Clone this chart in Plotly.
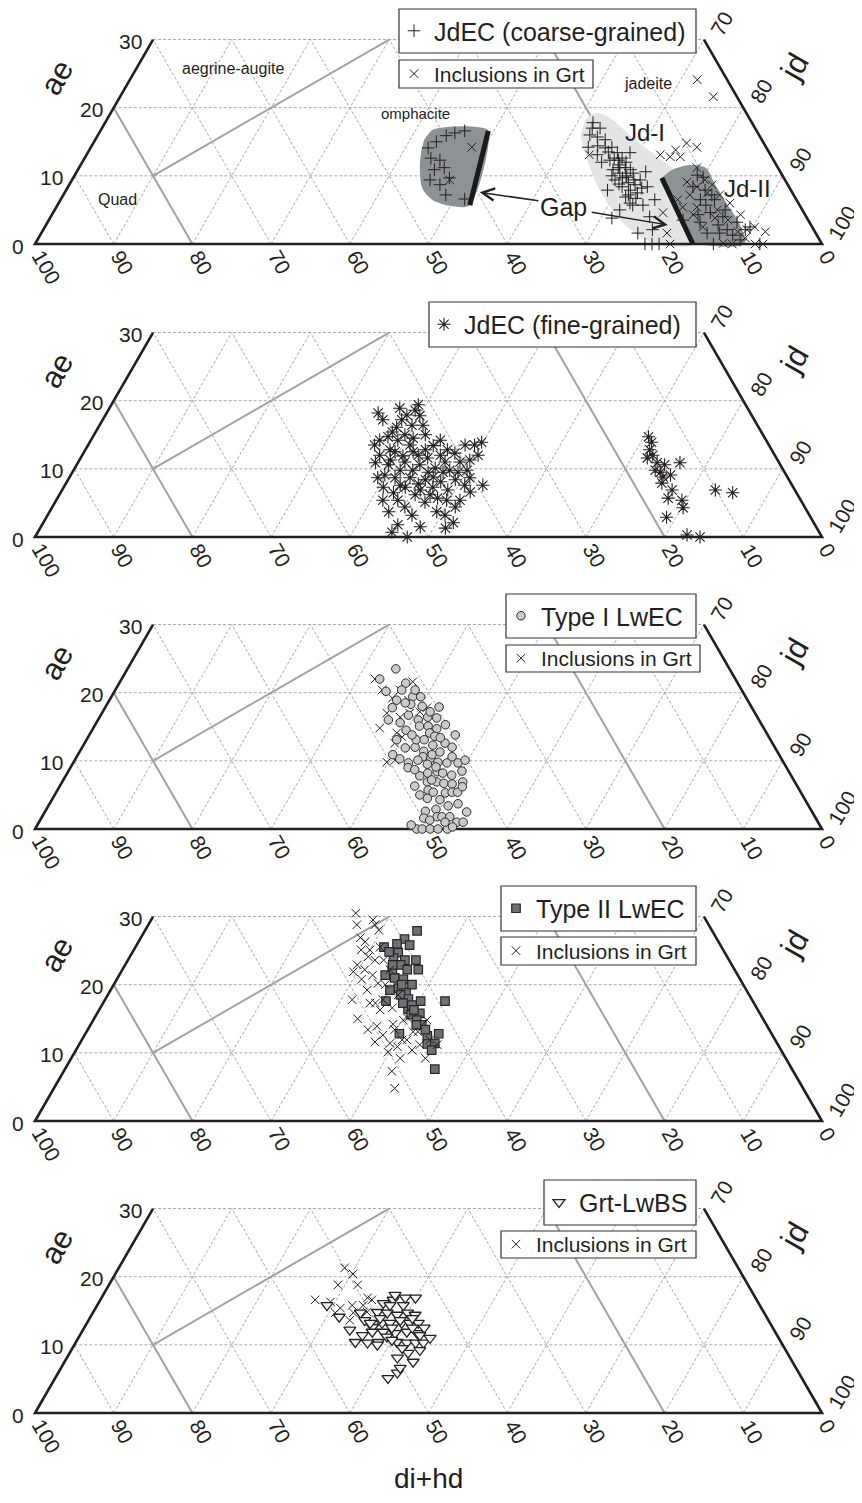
import math
import plotly.graph_objects as go

# page body adds an 8px offset; target positions are measured in screen pixels
OFF = 8
W, H = 862 - OFF, 1503 - OFF
S3 = math.sqrt(3) / 2
FONT = "Arial, Liberation Sans, Helvetica, sans-serif"
TXT = "#231f20"

# ---------------- axes / ticks ----------------
AE_TICKS = [0, 10, 20, 30]
JD_TICKS = [70, 80, 90, 100]
DIHD_TICKS = [100, 90, 80, 70, 60, 50, 40, 30, 20, 10, 0]
GRID_AE = [10, 20, 30]
GRID_JD = [10, 20, 30, 40, 50, 60, 70, 80, 90]
GRID_DI = [10, 20, 30, 40, 50, 60, 70, 80, 90]
AE_MAX = 30

# classification boundaries: di+hd=80, di+hd=20, ae=jd   (ae / jd end points)
BOUND_AE = [[20, 0], [0, 30], [10, 30]]
BOUND_JD = [[0, 20], [80, 50], [10, 30]]

# ---------------- panel 1 : JdEC (coarse-grained) ----------------
P1_COARSE_AE = [14.1, 15.0, 15.9, 16.3, 16.6, 12.6, 12.3, 10.9, 11.2, 9.4, 8.7, 9.7, 7.2, 6.6,
                17.8, 16.0, 15.7, 14.2, 13.1, 14.1, 14.2, 13.4, 13.4, 12.3, 10.9, 10.4, 9.8, 10.4, 9.4,
                9.4, 8.4, 7.9, 7.5, 6.9, 8.4, 3.8, 1.6, 0, 0, 0, 4.0, 2.1, 6.0, 11.6, 11.2, 12.3, 9.0,
                8.7, 15.3, 17.0, 9.7, 5.7, 5.7,
                13.5, 12.6, 12.6, 12.0, 11.2, 10.9, 10.0, 10.0, 9.4, 8.8, 8.2, 7.2, 6.7, 12.0, 14.4,
                17.0, 10.6, 6.5, 7.9, 5.0,
                9.8, 8.4, 6.5, 4.6, 4.0, 3.2, 2.5, 1.6, 0, 1.6, 3.5, 0, 7.9, 6.5, 4.3, 2.1, 0.6,
                10.1, 7.2, 5.7, 5.0, 2.8, 1.3, 3.2, 2.1]
P1_COARSE_JD = [42.9, 43.5, 44.3, 45.2, 46.3, 44.0, 45.3, 45.3, 46.4, 45.5, 47.1, 47.8, 48.6, 51.3,
                62.0, 62.5, 63.6, 63.2, 64.9, 65.4, 66.2, 67.3, 68.9, 66.9, 68.0, 69.1, 70.3, 70.8, 72.2,
                69.0, 70.4, 71.7, 72.8, 71.6, 73.6, 71.4, 75.8, 77.5, 78.4, 79.3, 76.1, 77.4, 72.6, 68.5,
                69.4, 68.0, 70.9, 71.9, 64.8, 63.3, 69.8, 74.4, 73.1,
                66.1, 67.3, 68.3, 69.1, 68.5, 70.2, 68.3, 70.1, 71.4, 69.8, 73.0, 71.8, 73.0, 66.0, 64.3,
                62.3, 72.3, 75.5, 68.8, 71.8,
                80.0, 79.4, 81.3, 83.5, 85.4, 87.6, 89.6, 86.2, 86.2, 84.6, 80.6, 92.1, 81.2, 83.1, 82.1,
                86.9, 89.3,
                79.1, 82.4, 82.4, 85.2, 85.4, 88.0, 82.9, 89.2]
P1_INCL_AE = [14.2, 9.4, 13.1, 13.1, 12.8, 12.8, 14.8, 13.8, 4.6, 1.6, 0, 24.1, 21.6, 11.2, 9.1, 7.5,
              5.4, 5.0, 6.0, 2.1, 2.5, 0.1, 0, 0, 0, 2.5, 5.4, 6.5, 8.4, 14.2, 8.7, 7.2, 4.3, 1.8, 0.9,
              9.4, 7.2, 3.8, 3.5, 1.8, 4.3]
P1_INCL_JD = [48.4, 48.0, 63.9, 72.9, 74.3, 75.6, 75.4, 74.5, 77.5, 79.5, 80.7, 72.1, 75.4, 78.5, 78.3,
              81.7, 81.4, 84.2, 85.3, 89.4, 90.2, 87.4, 88.6, 91.5, 92.5, 83.6, 79.6, 78.4, 79.9, 77.0,
              81.7, 83.4, 87.5, 91.9, 89.8,
              80.4, 79.6, 84.5, 86.3, 88.4, 81.5]

# shaded fields of panel 1 (outline vertices)
OMPH_AE = [15.3, 16.7, 17.2, 17.2, 16.6, 5.7, 5.6, 6.5, 8.2, 11.6, 13.8]
OMPH_JD = [41.8, 42.1, 44.1, 47.3, 49.3, 52.4, 49.9, 47.2, 45.1, 43.1, 42.2]
JD1_AE = [18.2, 19.2, 18.5, 15.3, 12.0, 8.7, 4.3, 0.0, 0.0, 2.8, 7.9, 13.1, 16.0]
JD1_JD = [60.8, 61.5, 63.8, 68.6, 74.0, 78.9, 82.4, 83.8, 78.8, 73.6, 67.8, 63.4, 61.3]
JD2_AE = [9.4, 10.9, 11.6, 11.2, 8.7, 5.7, 2.8, 0.0, 0.0]
JD2_JD = [74.7, 75.5, 77.4, 79.6, 82.1, 85.2, 88.2, 90.1, 83.6]
GAP_AE = [[16.6, 5.7], [9.7, 0.0]]
GAP_JD = [[49.3, 52.4], [74.8, 83.6]]
ARROW_HEAD_AE = [7.6, 2.8]
ARROW_HEAD_JD = [52.7, 79.0]
ARROW_TAIL_AE = [6.3, 4.7]
ARROW_TAIL_JD = [61.0, 68.2]

P1_LABELS = ["aegrine-augite", "omphacite", "jadeite", "Quad", "Jd-I", "Jd-II", "Gap"]
P1_LABEL_AE = [25.7, 19.2, 23.5, 6.6, 16.4, 8.2, 5.4]
P1_LABEL_JD = [12.3, 38.7, 66.2, 7.2, 69.3, 86.4, 64.4]
P1_LABEL_SIZE = [16, 15, 16, 16, 24, 24, 25]

# ---------------- panel 2 : JdEC (fine-grained) ----------------
P2_FINE_AE = [18.2, 18.9, 18.6, 17.8, 17.2, 16.1, 13.5, 14.7, 14.2, 13.5, 12.8, 12.0, 12.3, 13.5, 13.9,
              10.9, 12.8, 11.3, 11.0, 10.6, 10.1, 9.8, 9.8, 12.0, 8.7, 8.7, 8.4, 8.1, 8.4, 7.6, 7.3, 6.5,
              7.6, 6.2, 6.2, 5.4, 5.4, 5.7, 4.4, 3.7, 2.1, 1.3, 0.7, 0, 1.5, 8.8, 16.4, 15.0, 11.0, 11.3,
              12.0, 12.0, 9.8, 9.1, 7.6, 6.9, 4.4,
              17.2, 17.9, 19.4, 15.4, 15.0, 14.2, 12.5, 11.9, 12.5, 11.6, 13.4, 12.8, 11.0, 9.8, 9.5,
              9.5, 9.5, 10.6, 7.3, 7.8, 7.3, 6.9, 8.7, 8.7, 5.4, 5.1, 3.2, 3.7, 1.8, 13.5, 14.2, 16.4,
              14.5, 6.6, 5.4, 3.2,
              14.7, 13.9, 12.8, 12.0, 11.6, 10.9, 9.5, 8.8, 9.1, 10.9, 7.9, 6.9, 5.7, 5.4, 4.3, 2.9, 0.3,
              0, 6.9, 6.5, 9.8, 10.6]
P2_FINE_JD = [34.5, 36.9, 39.0, 40.0, 38.0, 37.9, 36.4, 37.5, 39.0, 40.9, 43.2, 45.5, 47.2, 47.9, 49.8,
              37.8, 38.7, 39.5, 41.5, 43.6, 45.8, 47.8, 50.0, 50.3, 41.4, 43.3, 45.4, 47.5, 49.2, 53.1,
              40.6, 42.3, 42.6, 45.2, 47.1, 49.6, 51.3, 48.3, 44.8, 43.1, 52.1, 51.5, 45.0, 47.3, 48.2,
              46.2, 39.7, 42.1, 46.6, 49.6, 37.8, 42.7, 41.5, 39.9, 50.8, 45.5, 51.2,
              35.6, 38.3, 39.0, 37.7, 39.5, 36.7, 39.5, 40.8, 41.8, 44.1, 43.9, 46.0, 48.5, 43.1, 45.2,
              47.1, 49.0, 39.6, 43.4, 44.8, 46.9, 49.0, 50.9, 39.2, 43.4, 47.0, 46.3, 49.2, 45.2, 49.1,
              44.4, 41.1, 40.8, 52.0, 41.5, 50.5,
              70.6, 71.4, 71.7, 72.5, 72.0, 73.6, 74.7, 75.4, 76.2, 76.5, 75.7, 77.5, 77.6, 79.5, 80.2,
              78.8, 82.7, 84.5, 83.0, 85.4, 73.9, 74.7]

# ---------------- panel 3 : Type I LwEC ----------------
P3_T1_AE = [23.5, 22.0, 20.2, 21.4, 20.4, 18.9, 19.4, 19.4, 18.0, 17.9, 16.7, 16.0, 16.4, 16.3, 15.6,
            14.5, 15.1, 15.1, 14.7, 14.1, 13.6, 12.0, 11.4, 12.3, 12.6, 12.0, 10.9, 10.3, 9.7, 9.0,
            10.6, 10.4, 9.8, 9.7, 9.7, 8.5, 7.8, 8.2, 8.4, 8.2, 6.3, 6.9, 6.9, 6.7, 6.6, 6.9, 5.7, 5.4,
            5.3, 5.4, 5.4, 6.2, 4.5, 3.7, 2.6, 2.9, 1.6, 1.8, 1.8, 1.8, 1.0, 1.0, 0, 0, 0, 0, 0, 0.3,
            10.9, 11.3, 9.5, 9.1, 13.1, 18.3, 17.8,
            18.5, 20.4, 17.2, 15.3, 13.8, 13.1, 13.4, 11.9, 10.1, 10.6, 10.1, 8.7, 7.9, 7.2, 5.0, 4.3,
            3.4, 1.3, 2.5, 1.0, 0.6, 13.1, 16.0, 13.8]
P3_T1_JD = [34.1, 32.8, 34.5, 36.4, 36.4, 36.5, 38.3, 39.3, 40.2, 42.4, 39.1, 40.7, 41.7, 42.9, 38.6,
            39.9, 41.3, 42.4, 43.7, 43.1, 44.0, 42.3, 43.7, 44.4, 45.8, 47.0, 40.0, 41.2, 42.6, 42.9,
            44.0, 45.1, 46.3, 47.5, 48.9, 50.0, 45.0, 45.8, 46.9, 47.7, 45.1, 46.4, 47.6, 48.6, 49.7,
            50.9, 47.1, 47.9, 49.5, 50.3, 51.0, 51.2, 47.6, 51.9, 48.3, 49.5, 48.6, 50.2, 50.8, 51.8,
            53.1, 53.9, 48.5, 49.2, 50.2, 51.2, 52.4, 52.9, 45.0, 45.8, 45.1, 46.4, 41.9, 38.6, 36.5,
            37.8, 38.1, 41.6, 44.5, 41.0, 42.9, 44.8, 41.1, 43.6, 47.7, 49.6, 43.9, 49.0, 46.8, 46.4,
            49.3, 50.8, 49.5, 53.6, 51.6, 47.5, 39.4, 36.9, 46.5]
P3_INCL_AE = [22.0, 21.6, 20.4, 17.0, 16.4, 14.8, 14.1, 13.5, 9.8, 17.8, 17.0, 19.2, 12.6,
              20.4, 18.9, 10.1, 17.2]
P3_INCL_JD = [32.2, 37.2, 36.2, 36.2, 38.2, 36.4, 38.9, 39.9, 39.8, 40.9, 39.1, 35.8, 39.4,
              33.9, 38.0, 40.7, 40.3]

# ---------------- panel 4 : Type II LwEC ----------------
P4_T2_AE = [27.9, 26.7, 26.0, 25.5, 24.7, 23.9, 23.6, 23.6, 22.9, 22.2, 22.2, 21.0, 20.8, 19.5, 19.2,
            18.9, 17.6, 18.5, 17.9, 17.6, 17.6, 16.4, 15.6, 15.8, 14.8, 12.5, 12.8, 11.3, 11.4, 12.8,
            7.6, 17.0, 20.0, 22.2, 24.8, 16.3, 14.1,
            25.8, 20.0, 17.3, 14.1, 13.4, 10.4, 22.9, 21.4]
P4_T2_JD = [34.6, 33.6, 33.0, 31.6, 33.8, 33.6, 35.2, 36.6, 35.0, 36.2, 37.6, 35.2, 36.4, 36.4, 35.5,
            37.7, 35.8, 37.2, 38.5, 40.2, 43.3, 39.2, 40.0, 41.0, 41.1, 43.6, 44.9, 44.2, 45.1, 39.9,
            47.0, 39.4, 36.6, 34.3, 32.6, 40.0, 42.1,
            34.7, 37.9, 38.1, 41.4, 42.9, 45.2, 34.0, 33.8]
P4_INCL_AE = [30.5, 29.5, 28.8, 28.8, 28.0, 26.9, 26.3, 25.1, 24.1, 23.6, 21.9, 20.8, 21.4, 20.2, 17.3,
              17.3, 15.0, 13.9, 14.2, 11.6, 11.4, 10.9, 10.1, 15.1, 13.1, 11.9, 10.4, 9.2, 11.2, 14.8,
              7.3, 4.8, 25.5, 22.2, 22.2, 17.8, 13.4, 11.9,
              23.6, 25.1, 22.9, 20.0, 19.2, 16.3, 16.6, 14.8, 13.1, 11.2, 9.2, 12.6, 11.9, 18.5, 17.8,
              13.4]
P4_INCL_JD = [25.5, 28.2, 26.5, 28.8, 29.7, 27.9, 28.8, 28.9, 30.3, 31.4, 29.5, 31.1, 32.2, 33.5, 33.9,
              34.6, 33.5, 36.5, 38.4, 37.4, 39.4, 40.6, 39.8, 39.8, 41.5, 41.3, 42.7, 45.0, 45.5, 42.4,
              41.7, 43.3, 31.1, 34.0, 30.8, 35.3, 39.0, 40.7,
              32.5, 30.0, 29.5, 34.5, 32.6, 35.7, 37.1, 39.4, 42.1, 43.3, 41.8, 37.9, 44.2, 36.9, 31.4,
              35.6]

# ---------------- panel 5 : Grt-LwBS ----------------
P5_BS_AE = [15.8, 14.1, 14.7, 13.6, 12.6, 16.1, 16.6, 15.8, 16.9, 14.8, 14.7, 14.4, 14.7, 14.4, 13.2,
            13.2, 13.2, 13.2, 13.2, 11.9, 11.9, 11.7, 11.9, 11.7, 10.4, 10.3, 10.4, 11.2, 10.4, 10.3,
            10.3, 10.3, 8.8, 8.1, 7.5, 5.1, 5.9, 13.2, 15.8, 13.6, 10.7, 12.5, 11.4, 9.5,
            17.3, 16.9, 13.9, 13.9, 12.5, 12.5, 11.4, 10.0, 11.0, 9.2, 12.2, 6.6]
P5_BS_JD = [29.2, 31.6, 34.0, 35.1, 36.6, 36.2, 37.2, 38.9, 39.9, 36.1, 37.4, 38.8, 40.0, 41.1, 37.5,
            38.5, 40.0, 41.0, 42.1, 36.9, 38.3, 39.9, 41.3, 42.7, 35.5, 37.1, 38.4, 39.1, 40.8, 42.1,
            43.2, 44.2, 43.0, 42.0, 44.3, 42.3, 43.1, 36.0, 37.2, 39.6, 40.0, 41.7, 43.2, 41.9,
            37.1, 38.6, 36.9, 41.0, 39.1, 43.2, 35.9, 38.5, 44.7, 44.3, 33.9, 43.1]
P5_INCL_AE = [21.3, 20.4, 18.8, 16.6, 16.9, 15.8, 15.4, 14.7, 13.6, 15.8, 14.7, 14.8, 18.8, 16.3, 16.6]
P5_INCL_JD = [28.7, 30.2, 29.1, 27.3, 33.8, 32.4, 31.1, 30.8, 33.2, 33.8, 33.1, 34.8, 31.6, 29.4, 34.5]


# ---------------- helpers ----------------
def tx(ae, jd):
    return [j + a / 2 for a, j in zip(ae, jd)]


def ty(ae):
    return [a * S3 for a in ae]


def xp(px):
    return (px - OFF) / W


def yp(py):
    return 1 - (py - OFF) / H


PANEL_BOTTOM_PX = [244, 537, 829, 1121, 1413]
LEFT_PX = 35
UNIT_PX = 7.87
PAD = 10
TOP_PX = 215

fig = go.Figure()
layout_extra = {}
annotations = []
shapes = []


def ax_names(i):
    s = "" if i == 1 else str(i)
    return "x" + s, "y" + s


for i, yb in enumerate(PANEL_BOTTOM_PX, start=1):
    s = "" if i == 1 else str(i)
    xa, ya = ax_names(i)
    layout_extra["xaxis" + s] = dict(
        domain=[xp(LEFT_PX - PAD), xp(LEFT_PX + 100 * UNIT_PX + PAD)],
        range=[-PAD / UNIT_PX, 100 + PAD / UNIT_PX], visible=False, fixedrange=True, anchor=ya)
    layout_extra["yaxis" + s] = dict(
        domain=[yp(yb + PAD), yp(yb - TOP_PX)],
        range=[-PAD / UNIT_PX, TOP_PX / UNIT_PX], visible=False, fixedrange=True, anchor=xa)


def seg_trace(ae_pairs, jd_pairs, i, color, width, dash=None):
    xa, ya = ax_names(i)
    xs, ys = [], []
    for a_pair, j_pair in zip(ae_pairs, jd_pairs):
        xs += tx(a_pair, j_pair) + [None]
        ys += ty(a_pair) + [None]
    return go.Scatter(x=xs, y=ys, mode="lines", xaxis=xa, yaxis=ya, showlegend=False,
                      hoverinfo="skip", line=dict(color=color, width=width, dash=dash))


def add_frame(i):
    g_ae, g_jd = [], []
    for a in GRID_AE:
        g_ae.append([a, a]); g_jd.append([0, 100 - a])
    for j in GRID_JD:
        amax = min(AE_MAX, 100 - j)
        g_ae.append([0, amax]); g_jd.append([j, j])
    for d in GRID_DI:
        amax = min(AE_MAX, 100 - d)
        g_ae.append([0, amax]); g_jd.append([100 - d, 100 - d - amax])
    fig.add_trace(seg_trace(g_ae, g_jd, i, "#929292", 0.8, "3px,2px"))
    fig.add_trace(seg_trace(BOUND_AE, BOUND_JD, i, "#9ea3a5", 2.0))


def add_border(i):
    fig.add_trace(seg_trace([[AE_MAX, 0, 0, AE_MAX]], [[0, 0, 100, 100 - AE_MAX]], i, TXT, 2.6))


def add_ticks(i):
    xa, ya = ax_names(i)
    fs = 21
    for a in AE_TICKS:
        annotations.append(dict(x=a / 2, y=a * S3, xref=xa, yref=ya, text=str(a), showarrow=False,
                                xanchor="right", yanchor="middle", xshift=-9, yshift=-2,
                                font=dict(size=fs, color=TXT)))
    for d in DIHD_TICKS:
        L = len(str(d)) * 0.556 * fs / 2
        annotations.append(dict(x=100 - d, y=0, xref=xa, yref=ya, text=str(d), showarrow=False,
                                textangle=60, xanchor="center", yanchor="middle",
                                xshift=3 + 0.5 * L, yshift=-(8 + 0.866 * L),
                                font=dict(size=fs, color=TXT)))
    for j in JD_TICKS:
        a = 100 - j
        L = len(str(j)) * 0.556 * fs / 2
        annotations.append(dict(x=j + a / 2, y=a * S3, xref=xa, yref=ya, text=str(j), showarrow=False,
                                textangle=-60, xanchor="center", yanchor="middle",
                                xshift=12 + 0.5 * L, yshift=6 + 0.866 * L,
                                font=dict(size=fs, color=TXT)))
    annotations.append(dict(x=24.5 / 2, y=24.5 * S3, xref=xa, yref=ya, text="ae", showarrow=False,
                            textangle=-60, xshift=-75, font=dict(size=31, color=TXT)))
    annotations.append(dict(x=74 + 13, y=26 * S3, xref=xa, yref=ya, text="jd", showarrow=False,
                            textangle=-60, xshift=75, font=dict(size=31, color=TXT)))


def marker_trace(ae, jd, i, name, legend, symbol, size, fill, lcolor, lwidth):
    xa, ya = ax_names(i)
    return go.Scatter(x=tx(ae, jd), y=ty(ae), mode="markers", name=name, legend=legend,
                      xaxis=xa, yaxis=ya, cliponaxis=False,
                      marker=dict(symbol=symbol, size=size, color=fill,
                                  line=dict(color=lcolor, width=lwidth)))


def region(ae, jd, i, color):
    xa, ya = ax_names(i)
    return go.Scatter(x=tx(ae, jd), y=ty(ae), mode="lines", fill="toself", fillcolor=color,
                      line=dict(width=0, color=color, shape="spline", smoothing=0.8),
                      xaxis=xa, yaxis=ya, showlegend=False, hoverinfo="skip")


for i in range(1, 6):
    add_frame(i)

# panel 1 fields
fig.add_trace(region(JD1_AE, JD1_JD, 1, "#e3e4e5"))
fig.add_trace(region(JD2_AE, JD2_JD, 1, "#8d9295"))
fig.add_trace(region(OMPH_AE, OMPH_JD, 1, "#8d9295"))
fig.add_trace(seg_trace(GAP_AE, GAP_JD, 1, "#1a1a1a", 5))

for i in range(1, 6):
    add_border(i)
    add_ticks(i)

INK = "#231f20"
fig.add_trace(marker_trace(P1_COARSE_AE, P1_COARSE_JD, 1, "JdEC (coarse-grained)", "legend",
                           "cross-thin-open", 9, INK, INK, 1.0))
fig.add_trace(marker_trace(P1_INCL_AE, P1_INCL_JD, 1, "Inclusions in Grt", "legend2",
                           "x-thin-open", 8.5, INK, INK, 1.0))
fig.add_trace(marker_trace(P2_FINE_AE, P2_FINE_JD, 2, "JdEC (fine-grained)", "legend3",
                           "asterisk-open", 11, INK, INK, 1.1))
fig.add_trace(marker_trace(P3_INCL_AE, P3_INCL_JD, 3, "Inclusions in Grt", "legend5",
                           "x-thin-open", 8.5, INK, INK, 1.0))
fig.add_trace(marker_trace(P3_T1_AE, P3_T1_JD, 3, "Type I LwEC", "legend4",
                           "circle", 8.5, "#c9cacb", "#2b2b2b", 1.0))
fig.add_trace(marker_trace(P4_T2_AE, P4_T2_JD, 4, "Type II LwEC", "legend6",
                           "square", 8.5, "#6e7275", "#262626", 1.2))
fig.add_trace(marker_trace(P4_INCL_AE, P4_INCL_JD, 4, "Inclusions in Grt", "legend7",
                           "x-thin-open", 8.5, INK, INK, 1.0))
fig.add_trace(marker_trace(P5_INCL_AE, P5_INCL_JD, 5, "Inclusions in Grt", "legend9",
                           "x-thin-open", 8.5, INK, INK, 1.0))
fig.add_trace(marker_trace(P5_BS_AE, P5_BS_JD, 5, "Grt-LwBS", "legend8",
                           "triangle-down", 10.5, "#f4f5f4", "#222222", 1.3))

# panel-1 field names
for t, a, j, fs in zip(P1_LABELS, P1_LABEL_AE, P1_LABEL_JD, P1_LABEL_SIZE):
    annotations.append(dict(x=j + a / 2, y=a * S3, xref="x", yref="y", text=t, showarrow=False,
                            xanchor="center", yanchor="middle", font=dict(size=fs, color=TXT)))
# "Gap" arrows
for ha, hj, ta, tj in zip(ARROW_HEAD_AE, ARROW_HEAD_JD, ARROW_TAIL_AE, ARROW_TAIL_JD):
    annotations.append(dict(x=hj + ha / 2, y=ha * S3, ax=tj + ta / 2, ay=ta * S3,
                            xref="x", yref="y", axref="x", ayref="y", text="", showarrow=True,
                            arrowhead=5, arrowsize=1.6, arrowwidth=1.5, arrowcolor=TXT, standoff=0))

# bottom axis title
annotations.append(dict(x=xp(428), y=yp(1478), xref="paper", yref="paper", text="di+hd",
                        xanchor="center", yanchor="middle",
                        showarrow=False, font=dict(size=28, color=TXT)))

# legend boxes: left, top, right, bottom (screen px), font size
LEG_BOXES = {
    "legend": (399, 9, 696, 53, 25),
    "legend2": (399, 60, 593, 88, 21),
    "legend3": (429, 302, 696, 347, 25),
    "legend4": (506, 594, 696, 638, 25),
    "legend5": (506, 645, 700, 672, 21),
    "legend6": (501, 886, 696, 931, 25),
    "legend7": (501, 937, 696, 965, 21),
    "legend8": (544, 1180, 696, 1225, 25),
    "legend9": (501, 1231, 696, 1258, 21),
}
for name, (l, t, r, b, fs) in LEG_BOXES.items():
    layout_extra[name] = dict(x=xp(l - 5), xanchor="left", y=yp((t + b) / 2), yanchor="middle",
                              bgcolor="rgba(0,0,0,0)", borderwidth=0,
                              font=dict(size=fs, color=TXT, family=FONT))
    shapes.append(dict(type="rect", xref="paper", yref="paper", x0=xp(l), x1=xp(r),
                       y0=yp(b), y1=yp(t), line=dict(color="#333333", width=1.2),
                       fillcolor="white", layer="above"))

fig.update_layout(
    width=W, height=H, margin=dict(l=0, r=0, t=0, b=0),
    paper_bgcolor="white", plot_bgcolor="rgba(0,0,0,0)",
    font=dict(family=FONT, color=TXT),
    showlegend=True, annotations=annotations, shapes=shapes,
    **layout_extra,
)
fig.write_html("out.html")
